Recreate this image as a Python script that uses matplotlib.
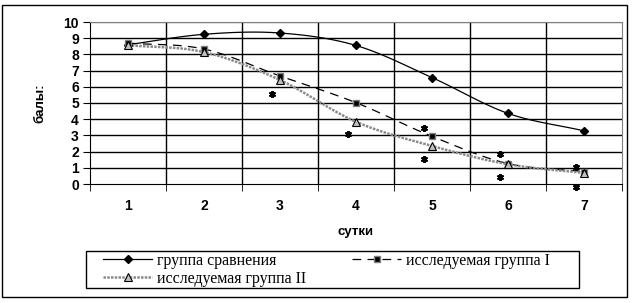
import numpy as np
import matplotlib
matplotlib.use("Agg")
import matplotlib.pyplot as plt
from matplotlib.patches import Rectangle
from matplotlib.lines import Line2D

days = [1, 2, 3, 4, 5, 6, 7]
comparison = [8.6, 9.24, 9.32, 8.55, 6.57, 4.36, 3.28]
group1 = [8.7, 8.33, 6.67, 5.02, 2.94, 1.26, 0.77]
group2 = [8.57, 8.14, 6.42, 3.84, 2.35, 1.22, 0.68]
star_day = [3, 4, 5, 5, 6, 6, 7, 7]
star_value = [5.56, 3.1, 3.47, 1.55, 1.84, 0.41, 1.03, -0.19]
yticks = list(range(0, 11))

names = ["группа сравнения", "исследуемая группа I", "исследуемая группа II"]


def smooth(x, y, n=20):
    x = np.asarray(x, float)
    y = np.asarray(y, float)
    px = np.concatenate([[2 * x[0] - x[1]], x, [2 * x[-1] - x[-2]]])
    py = np.concatenate([[2 * y[0] - y[1]], y, [2 * y[-1] - y[-2]]])
    xs, ys = [], []
    t = np.linspace(0, 1, n, endpoint=False)
    for i in range(1, len(px) - 2):
        p0, p1, p2, p3 = [np.array([px[j], py[j]]) for j in (i - 1, i, i + 1, i + 2)]
        for tt in t:
            pt = 0.5 * ((2 * p1) + (-p0 + p2) * tt + (2 * p0 - 5 * p1 + 4 * p2 - p3) * tt ** 2
                        + (-p0 + 3 * p1 - 3 * p2 + p3) * tt ** 3)
            xs.append(pt[0]); ys.append(pt[1])
    xs.append(x[-1]); ys.append(y[-1])
    return xs, ys


fig = plt.figure(figsize=(6.36, 3.03), dpi=100)
ax = fig.add_axes([90 / 636, 1 - 184 / 303, 532 / 636, 162 / 303])

ax.set_xlim(0.5, 7.5)
ax.set_ylim(0, 10)

# grid
for v in yticks[1:]:
    ax.axhline(v, color="black" if v < 10 else "#808080", lw=1, zorder=1)
for b in np.arange(1.5, 7.5, 1.0):
    ax.axvline(b, color="black", lw=1, zorder=1)

g2_style = dict(color="#8a8a8a", lw=1.8, ls=(0, (1, 0.5)))
g1_style = dict(color="black", lw=0.9, ls=(0, (7, 5)))

# series lines
sx, sy = smooth(days, comparison)
ax.plot(sx, sy, color="black", lw=0.9, zorder=3)
ax.plot(days, comparison, ls="none", marker="D", ms=4, color="black", zorder=4)

sx, sy = smooth(days, group1)
ax.plot(sx, sy, zorder=3, **g1_style)
ax.plot(days, group1, ls="none", marker="s", ms=5, mfc="black", mec="#808080", mew=1, zorder=4)

sx, sy = smooth(days, group2)
ax.plot(sx, sy, zorder=3, **g2_style)
ax.plot(days, group2, ls="none", marker="^", ms=6, mfc="#c0c0c0", mec="black", mew=0.8, zorder=5)

# significance asterisks
ax.plot(np.array(star_day) - 0.1, star_value, ls="none", marker=(6, 2, 0), ms=5,
        mew=1.4, color="black", clip_on=False, zorder=6)

# axes styling
for s in ["top", "right"]:
    ax.spines[s].set_color("#808080")
for s in ["left", "bottom"]:
    ax.spines[s].set_color("black")
ax.set_yticks(yticks)
ax.set_yticklabels([str(v) for v in yticks], fontsize=10, fontweight="bold", family="Liberation Sans")
ax.set_xticks(days)
ax.set_xticklabels([str(d) for d in days], fontsize=10, fontweight="bold", family="Liberation Sans")
ax.set_xticks(np.arange(0.5, 8.0, 1.0), minor=True)
ax.tick_params(axis="x", which="major", length=0, pad=11)
ax.tick_params(axis="x", which="minor", length=5, direction="out", color="black")
ax.tick_params(axis="y", length=5, direction="out", pad=3)

ax.set_xlabel("сутки", fontsize=9.5, fontweight="heavy", family="Liberation Sans", labelpad=9)
ax.set_ylabel("балы:", fontsize=9.5, fontweight="heavy", family="Liberation Sans", labelpad=12)

# legend (row-major order: h1, h2 in first row; h3 in second)
h1 = Line2D([], [], color="black", lw=0.9, marker="D", ms=4)
h2 = Line2D([], [], marker="s", ms=5, mfc="black", mec="#808080", **g1_style)
h3 = Line2D([], [], marker="^", ms=6, mfc="#c0c0c0", mec="black", mew=0.8, **g2_style)
fs = 11.5
px_per_em = fs * 100 / 72
leg = fig.legend([h1, h3, h2], [names[0], names[2], names[1]], ncol=2, loc="upper left",
                 bbox_to_anchor=(103 / 636, 1 - 253 / 303),
                 frameon=False, prop={"family": "Liberation Serif", "size": fs},
                 handlelength=49 / px_per_em, handletextpad=5 / px_per_em,
                 columnspacing=46 / px_per_em,
                 borderaxespad=0, borderpad=0, labelspacing=0.1)

# legend box
fig.patches.append(Rectangle((86 / 636, 1 - 288 / 303), (579 - 86) / 636, 37 / 303,
                             transform=fig.transFigure, fill=False, edgecolor="black", lw=1))
# outer border
fig.patches.append(Rectangle((2 / 636, 1 - 297 / 303), 625 / 636, 292 / 303, transform=fig.transFigure,
                             fill=False, edgecolor="black", lw=1))

fig.savefig("out.png", dpi=100)
